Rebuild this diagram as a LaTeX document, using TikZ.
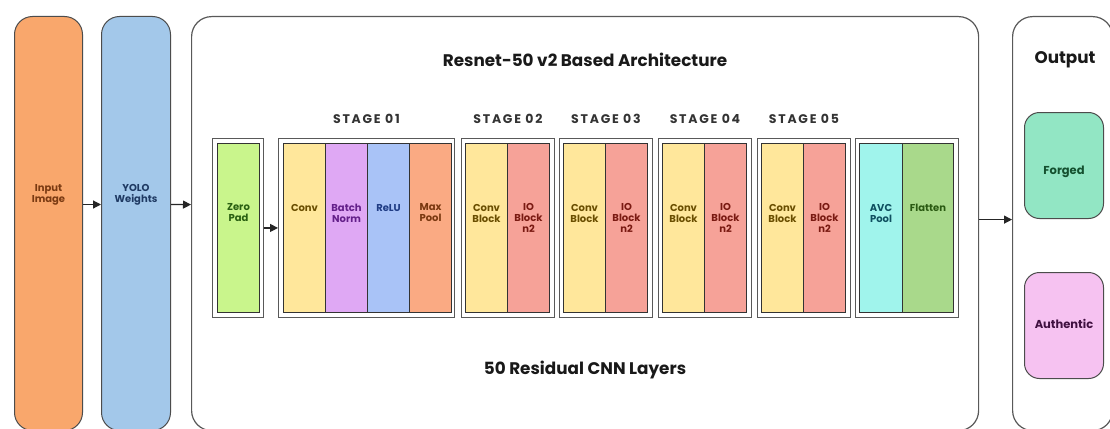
\documentclass[tikz,border=0pt]{standalone}
\usepackage{fontspec}
\setmainfont{Poppins}
\newfontfamily\stagefont[LetterSpace=14]{Poppins}
\usetikzlibrary{arrows.meta}
\definecolor{cInput}{HTML}{F9A76C}
\definecolor{cYolo}{HTML}{A3C8EA}
\definecolor{cZero}{HTML}{C9F58C}
\definecolor{cConv}{HTML}{FFE79B}
\definecolor{cBatch}{HTML}{DFA8F4}
\definecolor{cRelu}{HTML}{A9C3F7}
\definecolor{cMax}{HTML}{FAAA83}
\definecolor{cIO}{HTML}{F6A298}
\definecolor{cAvc}{HTML}{A0F4EC}
\definecolor{cFlat}{HTML}{A9D98B}
\definecolor{cForged}{HTML}{92E6C4}
\definecolor{cAuth}{HTML}{F6C2F1}
\definecolor{tConv}{HTML}{6A4E00}
\definecolor{tBatch}{HTML}{64208A}
\definecolor{tRelu}{HTML}{1F3C85}
\definecolor{tMax}{HTML}{7A3810}
\definecolor{tIO}{HTML}{7A1A12}
\definecolor{tAvc}{HTML}{0F5060}
\definecolor{tFlat}{HTML}{2A5A12}
\definecolor{tZero}{HTML}{2A6012}
\definecolor{tInput}{HTML}{7A3A12}
\definecolor{tYolo}{HTML}{1F3A63}
\definecolor{tForged}{HTML}{14502F}
\definecolor{tAuth}{HTML}{401040}
\tikzset{
  bigbox/.style={draw=black!65, line width=1.2pt, rounded corners=20pt, fill=white, anchor=north west, inner sep=0},
  sidebox/.style={draw=black!70, line width=1pt, rounded corners=18pt, anchor=north west, inner sep=0, minimum height=414pt},
  outbox/.style={draw=black!70, line width=1pt, rounded corners=15pt, anchor=north west, inner sep=0, minimum width=79pt, minimum height=106pt},
  framebox/.style={draw=black!65, line width=0.9pt, fill=white, anchor=north west, inner sep=0, minimum height=179pt},
  cell/.style={draw=black!80, line width=1pt, anchor=north west, inner sep=0, minimum width=42pt, minimum height=169pt},
  ctext/.style={font=\bfseries\fontsize{10}{11}\selectfont, align=center, text=#1},
  stagelbl/.style={font=\stagefont\bfseries\fontsize{12.5}{14}\selectfont, text=black!80},
  headlbl/.style={font=\bfseries\fontsize{16.8}{20}\selectfont, text=black!90},
  otext/.style={font=\bfseries\fontsize{11.5}{13}\selectfont, text=#1},
  arr/.style={line width=1.2pt, black!85, -{Triangle[length=8pt,width=8pt]}},
}
\begin{document}
\begin{tikzpicture}[x=1pt,y=-1pt]
\useasboundingbox (0,0) rectangle (1110,428);
\fill[white] (0,0) rectangle (1110,428);
% side boxes
\node[sidebox, fill=cInput, minimum width=68pt] (input) at (14,16) {};
\node[ctext=tInput] (inputT) at ([yshift=29pt]input.center) {Input\\Image};
\node[sidebox, fill=cYolo, minimum width=69pt] (yolo) at (101,16) {};
\node[ctext=tYolo] (yoloT) at ([yshift=29pt]yolo.center) {YOLO\\Weights};
% main box
\node[bigbox, minimum width=787pt, minimum height=414pt] (main) at (191,16) {};
\node[headlbl] (title) at (585,60) {Resnet-50 v2 Based Architecture};
\node[headlbl] (foot) at (585,370) {50 Residual CNN Layers};
% zero pad
\node[framebox, minimum width=51pt] (zpf) at (212,138) {};
\node[cell, fill=cZero] (zp) at (217,143) {};
\node[ctext=tZero] at ([yshift=15pt]zp.center) {Zero\\Pad};
% stage 01
\node[framebox, minimum width=176pt] (s1f) at (278,138) {};
\node[cell, fill=cConv] (c1) at (283,143) {};
\node[cell, fill=cBatch] (b1) at (325,143) {};
\node[cell, fill=cRelu] (r1) at (367,143) {};
\node[cell, fill=cMax] (m1) at (409,143) {};
\node[ctext=tConv] at ([yshift=20pt]c1.center) {Conv};
\node[ctext=tBatch] at ([yshift=15pt]b1.center) {Batch\\Norm};
\node[ctext=tRelu] at ([yshift=20pt]r1.center) {ReLU};
\node[ctext=tMax] at ([yshift=15pt]m1.center) {Max\\Pool};
\node[stagelbl] (st1) at ([yshift=19pt]s1f.north) {STAGE 01};
% stages 02-05
\foreach \n/\x in {2/461,3/559,4/658,5/757}{
  \node[framebox, minimum width=93pt] (s\n f) at (\x,138) {};
  \node[cell, fill=cConv] (cb\n) at (\x+4,143) {};
  \node[cell, fill=cIO] (io\n) at (\x+46,143) {};
  \node[ctext=tConv] at ([yshift=15pt]cb\n.center) {Conv\\Block};
  \node[ctext=tIO] at ([yshift=10pt]io\n.center) {IO\\Block\\n2};
  \node[stagelbl] (st\n) at ([yshift=19pt]s\n f.north) {STAGE 0\n};
}
% final group
\node[framebox, minimum width=103pt] (ff) at (855,138) {};
\node[cell, fill=cAvc, minimum width=43pt] (avc) at (859,143) {};
\node[cell, fill=cFlat, minimum width=51pt] (flat) at (902,143) {};
\node[ctext=tAvc] at ([yshift=15pt]avc.center) {AVC\\Pool};
\node[ctext=tFlat] at ([yshift=20pt]flat.center) {Flatten};
% output
\node[bigbox, minimum width=100pt, minimum height=414pt] (out) at (1012,16) {};
\node[headlbl] (outT) at (1065,60) {Output};
\node[outbox, fill=cForged] (forged) at (1024,112) {};
\node[otext=tForged] at ([yshift=-6pt]forged.center) {Forged};
\node[outbox, fill=cAuth] (auth) at (1024,272) {};
\node[otext=tAuth] at ([yshift=2pt]auth.center) {Authentic};
% arrows
\draw[arr] ([yshift=19pt]input.east) -- ([yshift=19pt]yolo.west);
\draw[arr] ([yshift=19pt]yolo.east) -- ([yshift=19pt]main.west);
\draw[arr] (zpf.east) -- (s1f.west);
\draw[arr] ([yshift=4pt]main.east) -- ([yshift=4pt]out.west);
\end{tikzpicture}
\end{document}
